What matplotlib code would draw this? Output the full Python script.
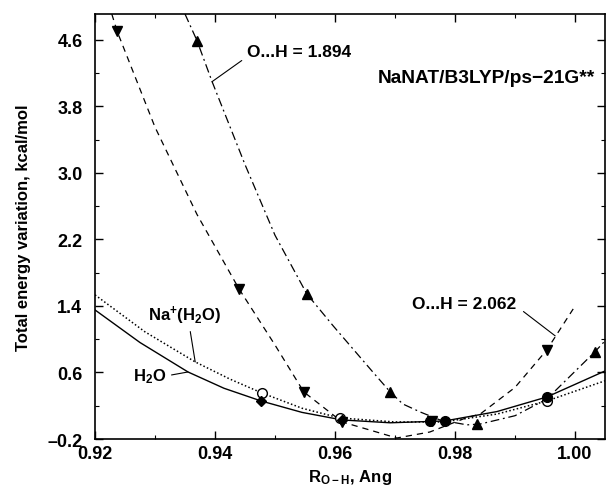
import matplotlib
matplotlib.use('Agg')
import matplotlib.pyplot as plt
from matplotlib.ticker import MultipleLocator, FixedLocator

plt.rcParams['font.family'] = ['Liberation Sans', 'DejaVu Sans']
plt.rcParams['font.weight'] = 'bold'
plt.rcParams['mathtext.fontset'] = 'custom'
plt.rcParams['mathtext.rm'] = 'Liberation Sans:bold'
plt.rcParams['mathtext.bf'] = 'Liberation Sans:bold'
plt.rcParams['mathtext.default'] = 'bf'

# ------------------------------------------------------------
# Data
# ------------------------------------------------------------

# O...H = 2.062 (down triangles, dashed)
r_down = [0.9237, 0.9440, 0.9548, 0.9612, 0.9762, 0.9953]
e_down = [4.70, 1.605, 0.366, 0.005, 0.017, 0.871]
r_down_fit = [0.9228, 0.9237, 0.9300, 0.9370, 0.9440, 0.9500, 0.9548, 0.9612,
              0.9658, 0.9703, 0.9758, 0.9817, 0.9842, 0.9900, 0.9953, 0.9997]
e_down_fit = [4.91, 4.70, 3.55, 2.50, 1.605, 0.93, 0.366, 0.005,
              -0.092, -0.188, -0.116, 0.05, 0.10, 0.42, 0.871, 1.364]

# O...H = 1.894 (up triangles, dash-dot)
r_up = [0.9370, 0.9553, 0.9692, 0.9837, 1.0033]
e_up = [4.59, 1.545, 0.366, -0.02, 0.847]
r_up_fit = [0.9350, 0.9370, 0.9395, 0.9450, 0.9500, 0.9553, 0.9597, 0.9630,
            0.9663, 0.9692, 0.9713, 0.9742, 0.9775, 0.9820, 0.9842, 0.9900,
            0.9953, 1.0033, 1.0050]
e_up_fit = [4.91, 4.59, 4.10, 3.10, 2.25, 1.545, 1.16, 0.883,
            0.606, 0.366, 0.221, 0.125, 0.029, -0.03, -0.02, 0.08,
            0.28, 0.847, 0.98]

# Na+(H2O) (open circles, dotted)
r_na = [0.9478, 0.9608, 0.9953]
e_na = [0.354, 0.053, 0.257]
r_na_fit = [0.920, 0.9283, 0.9367, 0.9425, 0.9478, 0.9545, 0.9608, 0.970,
            0.978, 0.987, 0.9953, 1.005]
e_na_fit = [1.533, 1.09, 0.727, 0.52, 0.354, 0.17, 0.053, 0.005,
            0.005, 0.10, 0.257, 0.50]

# H2O (filled symbols, solid)
r_h2o_d = [0.9477, 0.9612]
e_h2o_d = [0.257, 0.03]
r_h2o_c = [0.9758, 0.9783, 0.9953]
e_h2o_c = [0.017, 0.017, 0.305]
r_h2o_fit = [0.920, 0.9275, 0.9355, 0.9415, 0.9477, 0.9545, 0.9612, 0.9692,
             0.9783, 0.987, 0.9953, 1.005]
e_h2o_fit = [1.352, 0.96, 0.606, 0.41, 0.257, 0.12, 0.029, -0.005,
             0.017, 0.13, 0.305, 0.618]

x_ticks = [0.92, 0.94, 0.96, 0.98, 1.00]
y_ticks = [-0.2, 0.6, 1.4, 2.2, 3.0, 3.8, 4.6]

# ------------------------------------------------------------
# Plotting
# ------------------------------------------------------------
fig = plt.figure(figsize=(6.07, 4.89), dpi=100)
ax = fig.add_axes([0.1565, 0.1002, 0.8402, 0.8691])

ax.plot(r_h2o_fit, e_h2o_fit, color='black', linewidth=1.0, linestyle='-')
ax.plot(r_na_fit, e_na_fit, color='black', linewidth=1.1, linestyle=(0, (1, 1.5)))
ax.plot(r_down_fit, e_down_fit, color='black', linewidth=0.9, linestyle=(0, (5, 4)))
ax.plot(r_up_fit, e_up_fit, color='black', linewidth=0.9, linestyle=(0, (7, 3, 1.5, 3)))

ax.plot(r_down, e_down, 'v', color='black', markersize=7)
ax.plot(r_up, e_up, '^', color='black', markersize=7)
ax.plot(r_na, e_na, 'o', markerfacecolor='white', markeredgecolor='black', markersize=7)
ax.plot(r_h2o_d, e_h2o_d, 'D', color='black', markersize=5)
ax.plot(r_h2o_c, e_h2o_c, 'o', color='black', markersize=7)

ax.set_xlim(0.92, 1.005)
ax.set_ylim(-0.2, 4.91)
ax.xaxis.set_major_locator(FixedLocator(x_ticks))
ax.xaxis.set_minor_locator(MultipleLocator(0.01))
ax.yaxis.set_major_locator(FixedLocator(y_ticks))
ax.yaxis.set_minor_locator(FixedLocator([y + 0.4 for y in y_ticks]))
ax.set_xticklabels(['%.2f' % x for x in x_ticks])
ax.set_yticklabels([('%.1f' % y).replace('-', '\u2013') for y in y_ticks])
ax.tick_params(which='both', direction='in', top=True, right=True, labelsize=13)
ax.tick_params(which='major', length=6, width=1.0)
ax.tick_params(axis='y', which='major', pad=9)
ax.tick_params(axis='x', which='major', pad=4)
ax.tick_params(which='minor', length=3, width=0.8)
for s in ax.spines.values():
    s.set_linewidth(1.2)

ax.set_xlabel('R$_{O-H}$, Ang', fontsize=12, fontweight='bold', labelpad=4)
ax.set_ylabel('Total energy variation, kcal/mol', fontsize=12, fontweight='bold', labelpad=12)

# Labels with leader lines
ax.text(0.9672, 4.144, 'NaNAT/B3LYP/ps\u221221G**', fontsize=13.8, fontweight='bold',
        va='center')
ax.annotate('O...H = 1.894', xy=(0.9395, 4.096), xytext=(0.9453, 4.457),
            fontsize=12.5, fontweight='bold', va='center',
            arrowprops=dict(arrowstyle='-', color='black', linewidth=0.8, shrinkB=0,
                            relpos=(0.0, 0.15)))
ax.annotate('O...H = 2.062', xy=(0.9967, 1.04), xytext=(0.9728, 1.425),
            fontsize=12.5, fontweight='bold', va='center',
            arrowprops=dict(arrowstyle='-', color='black', linewidth=0.8, shrinkB=0,
                            relpos=(1.05, 0.1)))
ax.annotate('Na$^{+}$(H$_{2}$O)', xy=(0.9367, 0.727), xytext=(0.9288, 1.292),
            fontsize=12, fontweight='bold', va='center',
            arrowprops=dict(arrowstyle='-', color='black', linewidth=0.8, shrinkB=0,
                            relpos=(0.57, 0.0)))
ax.annotate('H$_{2}$O', xy=(0.9355, 0.606), xytext=(0.9263, 0.558),
            fontsize=12, fontweight='bold', va='center',
            arrowprops=dict(arrowstyle='-', color='black', linewidth=0.8, shrinkB=0,
                            relpos=(1.0, 0.5)))

plt.savefig('out.png', dpi=100)
